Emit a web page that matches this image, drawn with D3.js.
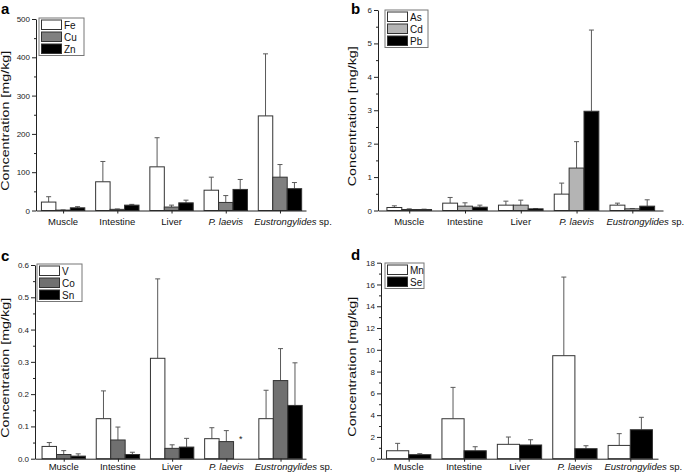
<!DOCTYPE html>
<html>
<head>
<meta charset="utf-8">
<script src="https://cdn.jsdelivr.net/npm/d3@7"></script>
<style>
  html, body { margin: 0; padding: 0; background: #fff; }
  svg { display: block; font-family: "Liberation Sans", Arial, sans-serif; }
</style>
</head>
<body>
<svg id="chart" width="685" height="474"></svg>
<script>
// ---- Data ----
const categories = ["Muscle", "Intestine", "Liver", "P. laevis", "Eustrongylides sp."];

// Panel a
const feMean = [22, 75, 114, 53, 247];
const feSD   = [14, 53, 76, 34, 162];
const cuMean = [1, 3, 9, 21, 87];
const cuSD   = [0.5, 1, 5, 18, 33];
const znMean = [7, 14, 20, 55, 57];
const znSD   = [3, 2, 7, 26, 16];
const ticksA = [0, 100, 200, 300, 400, 500];

// Panel b
const asMean = [0.09, 0.22, 0.16, 0.49, 0.16];
const asSD   = [0.05, 0.17, 0.12, 0.33, 0.06];
const cdMean = [0.03, 0.13, 0.16, 1.27, 0.05];
const cdSD   = [0.02, 0.10, 0.15, 0.79, 0.01];
const pbMean = [0.03, 0.10, 0.05, 2.97, 0.13];
const pbSD   = [0.01, 0.06, 0.01, 2.43, 0.19];
const ticksB = [0, 1, 2, 3, 4, 5, 6];

// Panel c
const vMean  = [0.038, 0.124, 0.311, 0.062, 0.124];
const vSD    = [0.012, 0.086, 0.246, 0.034, 0.088];
const coMean = [0.013, 0.058, 0.032, 0.053, 0.242];
const coSD   = [0.012, 0.040, 0.011, 0.034, 0.099];
const snMean = [0.008, 0.013, 0.036, null, 0.165];
const snSD   = [0.007, 0.007, 0.027, null, 0.132];
const ticksC = [0, 0.1, 0.2, 0.3, 0.4, 0.5, 0.6];

// Panel d
const mnMean = [0.73, 3.67, 1.32, 9.46, 1.22];
const mnSD   = [0.68, 2.88, 0.67, 7.22, 1.08];
const seMean = [0.37, 0.73, 1.26, 0.92, 2.66];
const seSD   = [0.09, 0.37, 0.48, 0.27, 1.14];
const ticksD = [0, 2, 4, 6, 8, 10, 12, 14, 16, 18];

const yTitle = "Concentration [mg/kg]";

// ---- Panels ----
const panels = [
  { letter: "a", lx: 1, ly: 14, x0: 36, x1: 306, y0: 210.5, y1: 19, xdom: [0.5, 5.48],
    ydom: [0, 500], ticks: ticksA, fmt: d3.format("d"), minor: 50, titleX: 9, labelDy: 14.5,
    legend: { x: 39, y: 18, w: 45 },
    series: [
      { name: "Fe", mean: feMean, sd: feSD, fill: "#ffffff" },
      { name: "Cu", mean: cuMean, sd: cuSD, fill: "#808080" },
      { name: "Zn", mean: znMean, sd: znSD, fill: "#000000" }
    ] },
  { letter: "b", lx: 351, ly: 14, x0: 378, x1: 663, y0: 210.5, y1: 10, xdom: [0.44, 5.55],
    ydom: [0, 6], ticks: ticksB, fmt: d3.format("d"), minor: 0.5, titleX: 356, labelDy: 14.5,
    legend: { x: 385, y: 10, w: 43 },
    series: [
      { name: "As", mean: asMean, sd: asSD, fill: "#ffffff" },
      { name: "Cd", mean: cdMean, sd: cdSD, fill: "#b4b4b4" },
      { name: "Pb", mean: pbMean, sd: pbSD, fill: "#000000" }
    ] },
  { letter: "c", lx: 1, ly: 261, x0: 35, x1: 306, y0: 458.7, y1: 265, xdom: [0.47, 5.47],
    ydom: [0, 0.6], ticks: ticksC, fmt: d3.format(".1f"), minor: 0.05, titleX: 9, labelDy: 11,
    legend: { x: 37, y: 264, w: 45 },
    asterisk: { series: 2, cat: 3, value: 0.068 },
    series: [
      { name: "V",  mean: vMean,  sd: vSD,  fill: "#ffffff" },
      { name: "Co", mean: coMean, sd: coSD, fill: "#707070" },
      { name: "Sn", mean: snMean, sd: snSD, fill: "#000000" }
    ] },
  { letter: "d", lx: 351, ly: 260, x0: 381, x1: 658, y0: 458.7, y1: 262.7, xdom: [0.5, 5.5],
    ydom: [0, 18], ticks: ticksD, fmt: d3.format("d"), minor: 1, titleX: 356, labelDy: 11,
    legend: { x: 385, y: 263, w: 39 },
    series: [
      { name: "Mn", mean: mnMean, sd: mnSD, fill: "#ffffff" },
      { name: "Se", mean: seMean, sd: seSD, fill: "#000000" }
    ] }
];

const svg = d3.select("#chart");

panels.forEach(p => {
  const g = svg.append("g");
  const x = d3.scaleLinear().domain(p.xdom).range([p.x0, p.x1]);
  const y = d3.scaleLinear().domain(p.ydom).range([p.y0, p.y1]);
  const step = x(2) - x(1);
  const groupW = step * 0.8;
  const n = p.series.length;
  const bw = groupW / n;

  // minor ticks
  const minorVals = d3.range(p.ydom[0], p.ydom[1] + 1e-9, p.minor).filter(v => !p.ticks.some(t => Math.abs(t - v) < 1e-9));
  const yMinor = d3.axisLeft(y).tickValues(minorVals).tickSize(2).tickFormat("");
  g.append("g").attr("transform", `translate(${p.x0},0)`).call(yMinor)
    .call(a => a.select(".domain").remove())
    .call(a => a.selectAll("line").attr("stroke", "#222"));

  // y axis
  const yAxis = d3.axisLeft(y).tickValues(p.ticks).tickFormat(p.fmt).tickSize(4).tickSizeOuter(0).tickPadding(2);
  g.append("g").attr("transform", `translate(${p.x0},0)`).call(yAxis)
    .call(a => a.select(".domain").attr("stroke", "#222"))
    .call(a => a.selectAll("line").attr("stroke", "#222"))
    .call(a => a.selectAll("text").attr("font-size", 8).attr("fill", "#222").attr("font-family", "Liberation Sans, Arial, sans-serif"));

  // bars
  p.series.forEach((s, si) => {
    const cats = categories.map((c, i) => ({ i, m: s.mean[i], sd: s.sd[i] })).filter(d => d.m !== null);
    const bx = d => x(d.i + 1) - groupW / 2 + si * bw;
    const eg = g.append("g").attr("stroke", "#5a5a5a").attr("stroke-width", 1);
    eg.selectAll("line.v").data(cats).join("line")
      .attr("x1", d => bx(d) + bw / 2).attr("x2", d => bx(d) + bw / 2)
      .attr("y1", d => y(d.m)).attr("y2", d => y(d.m + d.sd));
    eg.selectAll("line.c").data(cats).join("line")
      .attr("x1", d => bx(d) + bw / 2 - 2.5).attr("x2", d => bx(d) + bw / 2 + 2.5)
      .attr("y1", d => y(d.m + d.sd)).attr("y2", d => y(d.m + d.sd));
    g.append("g").selectAll("rect").data(cats).join("rect")
      .attr("x", d => bx(d)).attr("width", bw)
      .attr("y", d => y(d.m)).attr("height", d => y(0) - y(d.m))
      .attr("fill", s.fill).attr("stroke", "#333").attr("stroke-width", 1);
  });

  if (p.asterisk) {
    const a = p.asterisk;
    g.append("text")
      .attr("x", x(a.cat + 1) - groupW / 2 + a.series * bw + bw / 2)
      .attr("y", y(a.value) + 5)
      .attr("text-anchor", "middle").attr("font-size", 9).attr("fill", "#222").text("*");
  }

  // x axis
  const xAxis = d3.axisBottom(x).tickValues(d3.range(1, 6)).tickSize(3).tickSizeOuter(0).tickFormat("");
  g.append("g").attr("transform", `translate(0,${p.y0})`).call(xAxis)
    .call(a => a.select(".domain").attr("stroke", "#222"))
    .call(a => a.selectAll("line").attr("stroke", "#222"));

  // x labels
  categories.forEach((c, i) => {
    const shift = (c === "Eustrongylides sp.") ? 13 : 0;
    const t = g.append("text").attr("x", x(i + 1) + shift).attr("y", p.y0 + p.labelDy)
      .attr("text-anchor", "middle").attr("font-size", 9.5).attr("fill", "#111");
    if (c === "P. laevis") {
      t.append("tspan").attr("font-style", "italic").text(c);
    } else if (c === "Eustrongylides sp.") {
      t.append("tspan").attr("font-style", "italic").text("Eustrongylides");
      t.append("tspan").text(" sp.");
    } else {
      t.text(c);
    }
  });

  // y title
  g.append("text")
    .attr("transform", `translate(${p.titleX},${(p.y0 + p.y1) / 2 + 6}) rotate(-90)`)
    .attr("text-anchor", "middle").attr("font-size", 11).attr("fill", "#111")
    .attr("textLength", 140).attr("lengthAdjust", "spacingAndGlyphs").text(yTitle);

  // panel letter
  g.append("text").attr("x", p.lx).attr("y", p.ly).attr("font-size", 15)
    .attr("font-weight", "bold").attr("fill", "#000").text(p.letter);

  // legend
  const L = p.legend;
  const rowH = 12;
  const lg = g.append("g");
  lg.append("rect").attr("x", L.x).attr("y", L.y).attr("width", L.w).attr("height", n * rowH + 1.5)
    .attr("fill", "#fff").attr("stroke", "#777").attr("stroke-width", 1);
  p.series.forEach((s, si) => {
    lg.append("rect").attr("x", L.x + 2.5).attr("y", L.y + 2 + si * rowH).attr("width", 20).attr("height", rowH - 2.5)
      .attr("fill", s.fill).attr("stroke", "#333").attr("stroke-width", 1);
    lg.append("text").attr("x", L.x + 25).attr("y", L.y + 1 + si * rowH + rowH - 2.5)
      .attr("font-size", 10).attr("fill", "#111").text(s.name);
  });
});
</script>
</body>
</html>
